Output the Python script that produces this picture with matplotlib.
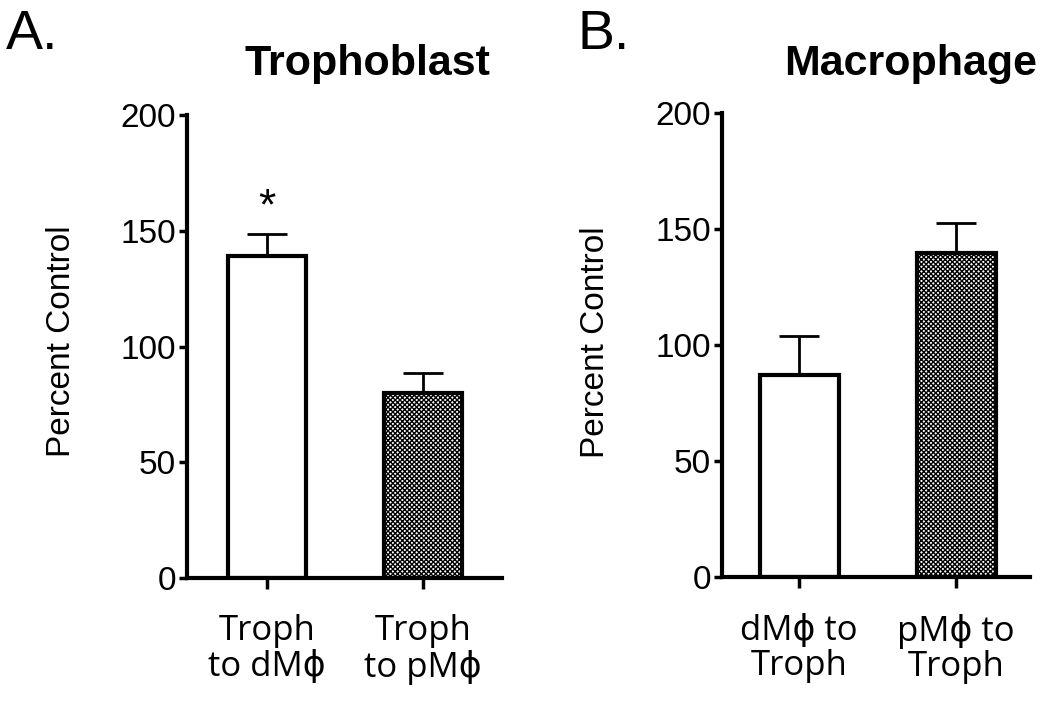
import numpy as np
import matplotlib.pyplot as plt

# data
labels_a = ["Troph\nto dM\u03d5", "Troph\nto pM\u03d5"]
values_a = [139, 80]
errors_a = [9.5, 8.5]

labels_b = ["dM\u03d5 to\nTroph", "pM\u03d5 to\nTroph"]
values_b = [87, 139.5]
errors_b = [17, 13]

yticks = [0, 50, 100, 150, 200]

plt.rcParams['hatch.linewidth'] = 1.0
arial = 'Liberation Sans'
cat_font = ['Open Sans', 'DejaVu Sans']

fig = plt.figure(figsize=(10.5, 7.05), dpi=100)

def panel(rect, labels, values, errors, xlim):
    ax = fig.add_axes(rect)
    x = np.arange(len(values))
    hatches = ['', 'xxxxxxx']
    for i in range(len(values)):
        ax.bar(x[i], values[i], width=0.5, color='white', edgecolor='black',
               linewidth=3, hatch=hatches[i], zorder=2)
        ax.errorbar(x[i], values[i], yerr=[[0], [errors[i]]], color='black',
                    elinewidth=2, capsize=14.5, capthick=2, zorder=1)
    ax.set_ylim(0, 200)
    ax.set_xlim(*xlim)
    ax.set_yticks(yticks)
    ax.set_xticks(x)
    ax.set_xticklabels(labels, family=cat_font, fontsize=25, linespacing=1.05)
    for t in ax.get_yticklabels():
        t.set_family(arial)
        t.set_fontsize(24)
    for s in ['top', 'right']:
        ax.spines[s].set_visible(False)
    for s in ['left', 'bottom']:
        ax.spines[s].set_linewidth(3)
    ax.tick_params(axis='y', length=6, width=2.5, pad=2)
    ax.tick_params(axis='x', length=8, width=2.5, pad=18)
    ax.patch.set_alpha(0)
    return ax

ax1 = panel([0.178, 0.180, 0.300, 0.657], labels_a, values_a, errors_a, (-0.513, 1.506))
ax2 = panel([0.688, 0.181, 0.293, 0.659], labels_b, values_b, errors_b, (-0.49, 1.47))

# significance marker
ax1.text(0, 160, "*", ha='center', va='center', fontsize=32, family=arial)

fig.text(61/1050, 0.516, "Percent Control", rotation=90, ha='center', va='center',
         fontsize=24, family=arial)
fig.text(595/1050, 0.514, "Percent Control", rotation=90, ha='center', va='center',
         fontsize=24, family=arial)

fig.text(367/1050, 1 - 75/705, "Trophoblast", ha='center', va='baseline',
         fontsize=31, fontweight='bold', family=arial)
fig.text(911/1050, 1 - 75/705, "Macrophage", ha='center', va='baseline',
         fontsize=31, fontweight='bold', family=arial)

fig.text(6/1050, 1 - 49/705, "A.", ha='left', va='baseline', fontsize=40, family=arial)
fig.text(578/1050, 1 - 49/705, "B.", ha='left', va='baseline', fontsize=40, family=arial)

fig.savefig("out.png", dpi=100)
